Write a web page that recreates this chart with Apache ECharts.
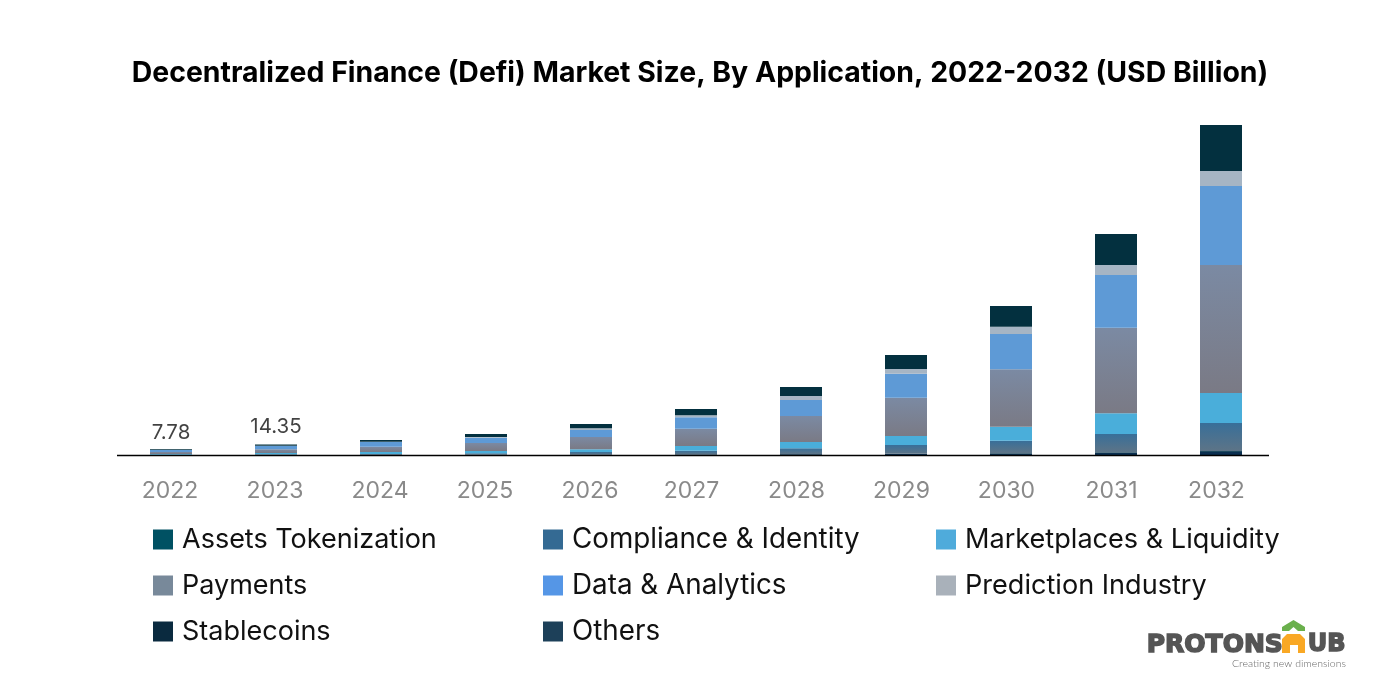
<!DOCTYPE html>
<html><head><meta charset="utf-8">
<script src="https://cdn.jsdelivr.net/npm/echarts@6/dist/echarts.min.js"></script>
<style>html,body{margin:0;padding:0;background:#fff}#c{width:1400px;height:700px}</style>
</head><body><div id="c"></div>
<script>
const years = ['2022','2023','2024','2025','2026','2027','2028','2029','2030','2031','2032'];
const others = [0.07,0.14,0.27,0.41,0.55,0.68,1.09,1.37,2.05,2.74,4.10];
const assets = [0.04,0.07,0.14,0.14,0.14,0.27,0.27,0.41,0.68,0.96,1.37];
const compliance = [0.37,0.68,0.96,1.78,3.42,4.92,7.79,11.90,16.82,25.03,38.29];
const marketplaces = [1.04,1.91,2.74,3.15,3.69,6.43,8.62,12.31,19.15,28.31,41.03];
const payments = [2.74,5.06,7.25,10.94,16.82,23.66,35.56,52.38,78.49,117.06,175.04];
const dataAnalytics = [2.44,4.51,6.43,7.25,9.57,15.59,21.88,32.82,48.27,72.07,108.03];
const prediction = [0.15,0.27,0.41,0.96,2.32,2.74,5.47,6.43,9.98,13.68,20.51];
const stablecoins = [0.93,1.71,2.32,4.10,5.88,8.62,12.31,19.15,28.31,42.39,62.90];
const totalLabels = [7.78,14.35,null,null,null,null,null,null,null,null,null];

const FONT = 'Inter';
const grad = (a,b)=>({type:'linear',x:0,y:0,x2:0,y2:1,colorStops:[{offset:0,color:a},{offset:1,color:b}]});
const bar = (name,data,color)=>({name,type:'bar',stack:'t',data,barWidth:42,itemStyle:{color},emphasis:{disabled:true}});
const legendCol = (left,top,gap,size,items)=>({
  left,top,padding:0,orient:'vertical',itemWidth:20,itemHeight:20,itemGap:gap,icon:'rect',selectedMode:false,
  textStyle:{fontFamily:FONT,fontSize:size,lineHeight:20,color:'#111',padding:[0,0,0,4]},
  data:items.map(([name,color])=>({name,itemStyle:{color}}))
});
const chart = echarts.init(document.getElementById('c'),null,{renderer:'canvas'});
chart.setOption({
  animation:false,backgroundColor:'#fff',
  title:{text:'Decentralized Finance (Defi) Market Size, By Application, 2022-2032 (USD Billion)',
    left:'center',top:54,itemGap:0,
    textStyle:{fontFamily:FONT,fontSize:28.4,fontWeight:700,color:'#000'}},
  grid:{left:118.5,width:1155,top:104,height:351},
  xAxis:{type:'category',
    data:years.map((y,i)=>({value:y,textStyle:i>=5?{padding:[0,9,0,0]}:{padding:[0,2,0,0]}})),
    axisTick:{show:false},axisLine:{show:false},
    axisLabel:{fontFamily:FONT,fontSize:23,color:'#8a8a8a',margin:25}},
  yAxis:{type:'value',min:0,max:480,interval:80,show:false,splitLine:{show:false}},
  legend:[
    legendCol(153,526,19,27,[['Assets Tokenization','#005163'],['Payments','#78899a'],['Stablecoins','#0a2a3f']]),
    legendCol(543,525.5,18,27.8,[['Compliance & Identity','#346a93'],['Data & Analytics','#5596e6'],['Others','#1d4059']]),
    legendCol(936,526,19,27.1,[['Marketplaces & Liquidity','#4fabdb'],['Prediction Industry','#a9b1ba']])
  ],
  series:[
    bar('Others',others,'#0a2f50'),
    bar('Assets Tokenization',assets,'#1d4a5e'),
    bar('Compliance & Identity',compliance,grad('#386f99','#5d7487')),
    bar('Marketplaces & Liquidity',marketplaces,'#4aaeda'),
    bar('Payments',payments,grad('#7b8aa3','#7a7a85')),
    bar('Data & Analytics',dataAnalytics,'#5e9ad6'),
    bar('Prediction Industry',prediction,'#a6b5c4'),
    bar('Stablecoins',stablecoins,'#03303f'),
    {type:'scatter',symbolSize:0,silent:true,
     data:totalLabels.map((v,i)=>({value:v,label:{distance:i===0?6:7}})),
     label:{show:true,position:'top',fontFamily:FONT,fontSize:20.5,color:'#111',
       formatter:p=>p.value==null?'':p.value.toFixed(2)}}
  ],
  graphic:[
    {type:'line',shape:{x1:117,y1:455.5,x2:1269,y2:455.5},style:{stroke:'#000',lineWidth:1.5},z:10},
    {type:'text',left:1146,top:632,style:{text:'PROTONS',font:'900 25px "DejaVu Sans"',fill:'#555',stroke:'#555',lineWidth:1.5}},
    {type:'text',left:1307,top:632,style:{text:'UB',font:'900 24px "DejaVu Sans"',fill:'#555',stroke:'#555',lineWidth:1.5}},
    {type:'polygon',shape:{points:[[1282,653],[1282,639],[1287,634],[1300,634],[1305,639],[1305,653],[1298,653],[1298,645],[1290,645],[1290,653]]},style:{fill:'#f9a825'}},
    {type:'polygon',shape:{points:[[1282,627],[1293.5,620],[1305,627],[1305,631],[1298,631],[1293.5,627],[1289,631],[1282,631]]},style:{fill:'#6ab04c'}},
    {type:'text',left:1232,top:658,style:{text:'Creating new dimensions',font:'300 10.5px Lato',fill:'#666'}}
  ]
});
</script></body></html>
